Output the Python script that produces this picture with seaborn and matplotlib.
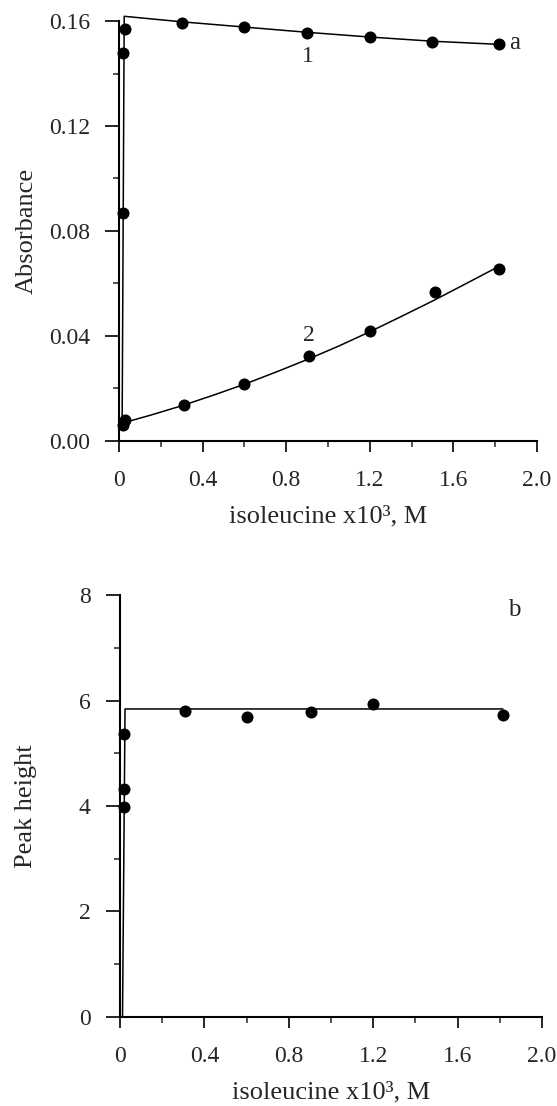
import numpy as np
import pandas as pd
import seaborn as sns
import matplotlib.pyplot as plt
from matplotlib.ticker import MultipleLocator, FixedLocator

# --- data ---
# panel a, curve 1 (absorbance)
c1_x = [0.019, 0.020, 0.030, 0.30, 0.60, 0.90, 1.20, 1.50, 1.82]
c1_y = [0.087, 0.148, 0.157, 0.1594, 0.1577, 0.1554, 0.1539, 0.1520, 0.1512]
c1_fit_x = [0.015, 0.025, 0.30, 0.60, 0.90, 1.20, 1.50, 1.82]
c1_fit_y = [0.004, 0.1618, 0.1597, 0.1577, 0.1557, 0.1539, 0.1523, 0.1511]

# panel a, curve 2
c2_x = [0.020, 0.030, 0.31, 0.60, 0.91, 1.20, 1.51, 1.82]
c2_y = [0.0061, 0.0080, 0.0137, 0.0217, 0.0324, 0.0419, 0.0568, 0.0655]
c2_fit_x = [0.02, 0.15, 0.30, 0.45, 0.60, 0.75, 0.90, 1.05, 1.20, 1.35, 1.50, 1.65, 1.82]
c2_fit_y = [0.0069, 0.0098, 0.0134, 0.0174, 0.0216, 0.0262, 0.0310, 0.0361,
            0.0416, 0.0474, 0.0533, 0.0595, 0.0666]

# panel b (peak height)
b_x = [0.019, 0.019, 0.020, 0.31, 0.60, 0.905, 1.20, 1.815]
b_y = [3.98, 4.32, 5.37, 5.80, 5.69, 5.78, 5.93, 5.72]
b_fit_x = [0.012, 0.024, 1.815]
b_fit_y = [0.0, 5.84, 5.84]

sns.set_style("ticks")
plt.rcParams['font.family'] = ['Liberation Serif', 'DejaVu Serif']

fig = plt.figure(figsize=(5.57, 11.06), dpi=100)
ax1 = fig.add_axes([0.2136, 0.6013, 0.964 - 0.2136, 0.981 - 0.6013])
ax2 = fig.add_axes([0.2154, 0.0805, 0.973 - 0.2154, 0.462 - 0.0805])

line_kw = dict(color='black', linewidth=1.1, estimator=None, sort=False)
dot_kw = dict(color='black', s=75, edgecolor='black', linewidth=0, zorder=3)

# --- panel a ---
sns.lineplot(x=c1_fit_x, y=c1_fit_y, ax=ax1, **line_kw)
sns.lineplot(x=c2_fit_x, y=c2_fit_y, ax=ax1, **line_kw)
sns.scatterplot(x=c1_x, y=c1_y, ax=ax1, **dot_kw)
sns.scatterplot(x=c2_x, y=c2_y, ax=ax1, **dot_kw)
ax1.set_xlim(0, 2.0)
ax1.set_ylim(0, 0.16)
ax1.yaxis.set_major_locator(FixedLocator([0, 0.04, 0.08, 0.12, 0.16]))
ax1.yaxis.set_minor_locator(MultipleLocator(0.02))
ax1.set_yticklabels(['0.00', '0.04', '0.08', '0.12', '0.16'])
ax1.set_ylabel('Absorbance', fontsize=19, labelpad=8)
ax1.text(0.904, 0.1463, '1', fontsize=17, ha='center', va='center')
ax1.text(0.91, 0.040, '2', fontsize=17, ha='center', va='center')
ax1.text(1.895, 0.1516, 'a', fontsize=18, ha='center', va='center')

# --- panel b ---
sns.lineplot(x=b_fit_x, y=b_fit_y, ax=ax2, **line_kw)
sns.scatterplot(x=b_x, y=b_y, ax=ax2, **dot_kw)
ax2.set_xlim(0, 2.0)
ax2.set_ylim(0, 8)
ax2.yaxis.set_major_locator(FixedLocator([0, 2, 4, 6, 8]))
ax2.yaxis.set_minor_locator(MultipleLocator(1))
ax2.set_ylabel('Peak height', fontsize=19, labelpad=30)
ax2.text(1.87, 7.72, 'b', fontsize=18, ha='center', va='center')

for ax in (ax1, ax2):
    sns.despine(ax=ax)
    ax.xaxis.set_major_locator(FixedLocator([0, 0.4, 0.8, 1.2, 1.6, 2.0]))
    ax.xaxis.set_minor_locator(MultipleLocator(0.2))
    ax.set_xticklabels(['0', '0.4', '0.8', '1.2', '1.6', '2.0'])
    ax.set_xlabel('isoleucine x10³, M', fontsize=19, labelpad=10)
    ax.tick_params(axis='both', which='major', labelsize=17, width=1.2, color='black')
    ax.tick_params(axis='y', which='major', length=10, pad=11)
    ax.tick_params(axis='y', which='minor', length=4, width=1.1)
    ax.tick_params(axis='x', which='major', length=8, pad=13)
    ax.tick_params(axis='x', which='minor', length=4, width=1.1)
    for s in ('left', 'bottom'):
        ax.spines[s].set_linewidth(1.5)
        ax.spines[s].set_color('black')
    for art in list(ax.lines) + list(ax.collections):
        art.set_clip_on(False)
    if ax.get_legend():
        ax.get_legend().remove()

fig.savefig('out.png', dpi=100)
